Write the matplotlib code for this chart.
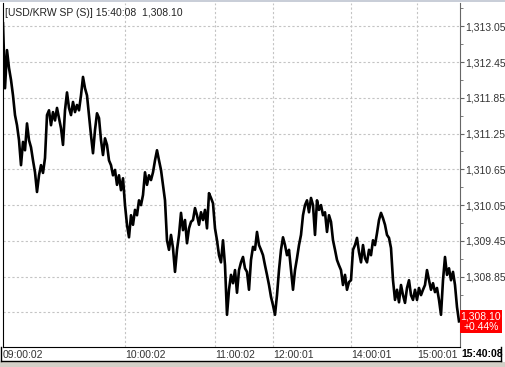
import matplotlib
matplotlib.use("Agg")
import matplotlib.pyplot as plt
from matplotlib.patches import Rectangle
from matplotlib.lines import Line2D
from matplotlib.transforms import IdentityTransform

# USD/KRW spot, one list per hour block
price_09 = [1313.10, 1312.01, 1312.65, 1312.35, 1312.15, 1311.89, 1311.56, 1311.39, 1311.14, 1310.72,
            1311.11, 1310.97, 1311.42, 1311.14, 1311.02, 1310.80, 1310.60, 1310.27, 1310.55, 1310.72,
            1310.59, 1310.84, 1311.56, 1311.64, 1311.39, 1311.61, 1311.47, 1311.68, 1311.51, 1311.34,
            1311.06, 1311.64, 1311.94, 1311.68, 1311.56, 1311.78, 1311.61, 1311.73, 1311.64, 1311.89,
            1312.20, 1312.01, 1311.89, 1311.56, 1311.22, 1310.92, 1311.31, 1311.59, 1311.51, 1311.14,
            1310.89, 1311.17, 1311.06, 1310.80, 1310.72, 1310.55, 1310.64, 1310.39, 1310.55, 1310.30,
            1310.50]
price_10 = [1310.05, 1309.72, 1309.51, 1309.88, 1309.72, 1309.97, 1309.88, 1310.13, 1310.05, 1310.22,
            1310.60, 1310.39, 1310.55, 1310.47, 1310.60, 1310.80, 1310.97, 1310.80, 1310.64, 1310.39,
            1310.13, 1309.46, 1309.30, 1309.55, 1309.33, 1308.93, 1309.30, 1309.55, 1309.92, 1309.63,
            1309.80, 1309.41, 1309.66, 1309.77, 1309.80, 1310.00, 1309.88, 1309.72, 1309.93, 1309.80,
            1309.97, 1309.66, 1310.25, 1310.17, 1310.08]
price_11 = [1309.66, 1309.46, 1309.21, 1309.09, 1309.46, 1309.04, 1308.21, 1308.63, 1308.88, 1308.74,
            1308.96, 1308.58, 1308.96, 1309.09, 1309.18, 1308.99, 1308.93, 1308.63, 1309.13, 1309.35,
            1309.30, 1309.60, 1309.38, 1309.30, 1309.21, 1309.04, 1308.88, 1308.71, 1308.51]
price_12 = [1308.37, 1308.21, 1308.54, 1308.96, 1309.30, 1309.51, 1309.38, 1309.21, 1309.30, 1308.96,
            1308.63, 1308.96, 1309.16, 1309.38, 1309.55, 1309.88, 1310.05, 1310.13, 1309.93, 1310.17,
            1310.05, 1309.55, 1310.13, 1309.97, 1310.05, 1309.88, 1309.93, 1309.60, 1309.88, 1309.77,
            1309.46, 1309.30, 1309.13, 1309.04, 1308.96, 1308.71, 1308.88, 1308.63, 1308.76]
price_14 = [1308.79, 1309.30, 1309.38, 1309.50, 1309.26, 1309.09, 1309.38, 1309.16, 1309.09, 1309.30,
            1309.21, 1309.46, 1309.38, 1309.58, 1309.80, 1309.92, 1309.83, 1309.72, 1309.55, 1309.50,
            1309.33, 1308.79, 1308.46, 1308.63, 1308.42, 1308.71, 1308.54, 1308.41, 1308.66, 1308.79,
            1308.54, 1308.46, 1308.63]
price_15 = [1308.46, 1308.66, 1308.54, 1308.63, 1308.71, 1308.96, 1308.79, 1308.63, 1308.74, 1308.59,
            1308.66, 1308.46, 1308.21, 1308.79, 1309.18, 1308.88, 1308.99, 1308.79, 1308.93, 1308.71,
            1308.34, 1308.10]

blocks = [price_09, price_10, price_11, price_12, price_14, price_15]
hour_labels = ["09:00:02", "10:00:02", "11:00:02", "12:00:01", "14:00:01", "15:00:01"]
price_ticks = [1308.25, 1308.85, 1309.45, 1310.05, 1310.65, 1311.25, 1311.85, 1312.45, 1313.05]
y_range = (1307.67, 1313.44)

title = "[USD/KRW SP (S)] 15:40:08  1,308.10"
last_time = "15:40:08"
last_price = 1308.10
change_pct = 0.44

plt.rcParams["font.family"] = ["Liberation Sans", "DejaVu Sans"]
FS = 7.5

prices = [p for b in blocks for p in b]
tick_pos = []
n = 0
for b in blocks:
    tick_pos.append(n)
    n += len(b)

W, H = 505, 367
fig = plt.figure(figsize=(W / 100, H / 100), dpi=100)
ax = fig.add_axes([3 / W, 20 / H, 457 / W, 344 / H])

ax.plot(range(len(prices)), prices, color="black", lw=1.9, zorder=3)
ax.set_xlim(0, len(prices) - 0.5)
ax.set_ylim(*y_range)

grid_kw = dict(color="#c4c4c4", lw=0.8, ls=(0, (2, 2)), zorder=1)
for v in price_ticks:
    ax.axhline(v, **grid_kw)
for p in tick_pos[1:]:
    ax.axvline(p, **grid_kw)

ax.set_xticks(tick_pos, hour_labels)
ax.tick_params(axis="x", length=0, pad=2, labelsize=FS, labelcolor="#333333")
for lab in ax.get_xticklabels():
    lab.set_horizontalalignment("left")

# lowest grid level sits under the last-price box, so it gets no label
ax.yaxis.tick_right()
ax.set_yticks(price_ticks, [""] + [f"{v:,.2f}" for v in price_ticks[1:]])
minor = [v + 0.3 for v in price_ticks]
ax.set_yticks(minor, minor=True)
ax.tick_params(axis="y", which="major", length=3, pad=1, color="#666666",
               labelsize=FS, labelcolor="#333333")
ax.tick_params(axis="y", which="minor", length=2, color="#666666")

ax.spines["top"].set_visible(False)
ax.spines["left"].set_color("black")
ax.spines["bottom"].set_color("black")
ax.spines["right"].set_color("#666666")

fig.text(5 / W, 1 - 13 / H, title, fontsize=FS, color="#222222", va="center", ha="left")

# bottom time strip frame and the last time stamp
fig.add_artist(Line2D([1 / W, 501 / W], [6 / H, 6 / H], color="black", lw=1))
fig.add_artist(Line2D([1 / W, 1 / W], [6 / H, 20 / H], color="black", lw=1))
fig.add_artist(Line2D([501 / W, 501 / W], [6 / H, 20 / H], color="black", lw=1))
fig.text(461 / W, 13 / H, last_time, fontsize=FS, fontweight="bold", color="black",
         va="center", ha="left")

# toolbar strip below and the thin border above
fig.add_artist(Rectangle((0, 0), 1, 5 / H, transform=fig.transFigure,
                         facecolor="#d4d0c8", edgecolor="none"))
fig.add_artist(Rectangle((0, 1 - 2 / H), 1, 2 / H, transform=fig.transFigure,
                         facecolor="#c9ced8", edgecolor="none"))

# red last-price box on the price scale
fig.canvas.draw()
x1 = ax.bbox.x1
yp = ax.transData.transform((0, last_price))[1]
fig.add_artist(Rectangle((x1, yp - 11.5), 42, 23, transform=IdentityTransform(),
                         facecolor="#ff0000", edgecolor="none", zorder=5))
fig.text(x1 + 21, yp + 5, f"{last_price:,.2f}", transform=IdentityTransform(),
         fontsize=FS, color="white", ha="center", va="center", zorder=6)
fig.text(x1 + 21, yp - 6, f"+{change_pct:.2f}%", transform=IdentityTransform(),
         fontsize=FS, color="white", ha="center", va="center", zorder=6)

fig.savefig("out.png", dpi=100)
